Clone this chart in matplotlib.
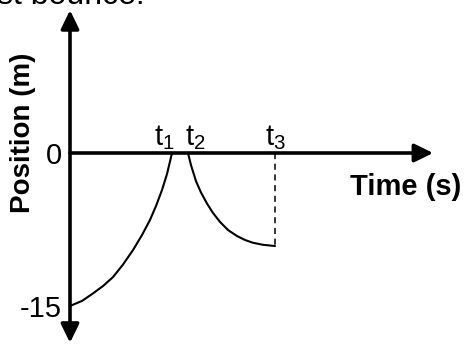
import matplotlib
matplotlib.use("Agg")
import matplotlib.pyplot as plt

plt.rcParams['font.family'] = ['Liberation Sans', 'DejaVu Sans']
plt.rcParams['mathtext.fontset'] = 'custom'
plt.rcParams['mathtext.rm'] = 'Liberation Sans'
plt.rcParams['mathtext.it'] = 'Liberation Sans'

# --- data ---
t_fall = [0.0, 0.118, 0.225, 0.324, 0.422, 0.520, 0.618, 0.706, 0.784, 0.843, 0.902, 0.951, 1.0]
pos_fall = [-15.0, -14.5, -13.77, -13.04, -12.16, -10.93, -9.51, -8.04, -6.57, -5.20, -3.63, -2.06, 0.0]

t_bounce = [1.157, 1.186, 1.235, 1.284, 1.343, 1.402, 1.471, 1.549, 1.637, 1.716, 1.794, 1.892, 2.01]
pos_bounce = [0.0, -1.18, -2.75, -3.87, -4.95, -5.88, -6.76, -7.55, -8.14, -8.53, -8.80, -9.0, -9.12]

t_marks = [1.0, 1.157, 2.01]
t_labels = [r'$\mathregular{t_1}$', r'$\mathregular{t_2}$', r'$\mathregular{t_3}$']
y_ticks = [0, -15]
y_tick_labels = ['0', '-15']

fig = plt.figure(figsize=(4.74, 3.45), dpi=100)
ax = fig.add_axes([0, 0, 1, 1])
ax.set_xlim(-70 / 102, (474 - 70) / 102)
ax.set_ylim(-192 / 10.2, 153 / 10.2)
ax.axis('off')

# axes with arrows
ax.annotate('', xy=(0, 14.0), xytext=(0, -18.6),
            arrowprops=dict(arrowstyle='<|-|>,head_length=0.45,head_width=0.22',
                            lw=2.6, mutation_scale=25, color='black',
                            shrinkA=0, shrinkB=0))
ax.annotate('', xy=(3.56, 0), xytext=(0, 0),
            arrowprops=dict(arrowstyle='-|>,head_length=0.45,head_width=0.22',
                            lw=2.6, mutation_scale=25, color='black',
                            shrinkA=0, shrinkB=0))

# curves
ax.plot(t_fall, pos_fall, color='black', lw=1.5, solid_capstyle='round',
        solid_joinstyle='round')
ax.plot(t_bounce, pos_bounce, color='black', lw=1.5, solid_capstyle='round',
        solid_joinstyle='round')
ax.plot([t_marks[2], t_marks[2]], [0, pos_bounce[-1]], color='black', lw=1.1,
        dashes=(4, 3))

# y tick labels
for v, lab in zip(y_ticks, y_tick_labels):
    ax.text(-0.08, v - 0.3, lab, ha='right', va='center', fontsize=21)

# time marks
aligns = ['right', 'left', 'center']
offs = [0.03, -0.03, 0.0]
for tm, lab, ha, o in zip(t_marks, t_labels, aligns, offs):
    ax.text(tm + o, 0.75, lab, ha=ha, va='baseline', fontsize=21)

# axis titles
ax.text(2.75, -4.12, 'Time (s)', ha='left', va='baseline', fontsize=21,
        fontweight='bold')
ax.text(-0.46, 2.0, 'Position (m)', ha='center', va='center', rotation=90,
        fontsize=20, fontweight='bold')

# cropped caption text at top
ax.text(0.735, 14.6, 'the first bounce.', ha='right', va='baseline', fontsize=23)

fig.savefig('out.png', dpi=100)
